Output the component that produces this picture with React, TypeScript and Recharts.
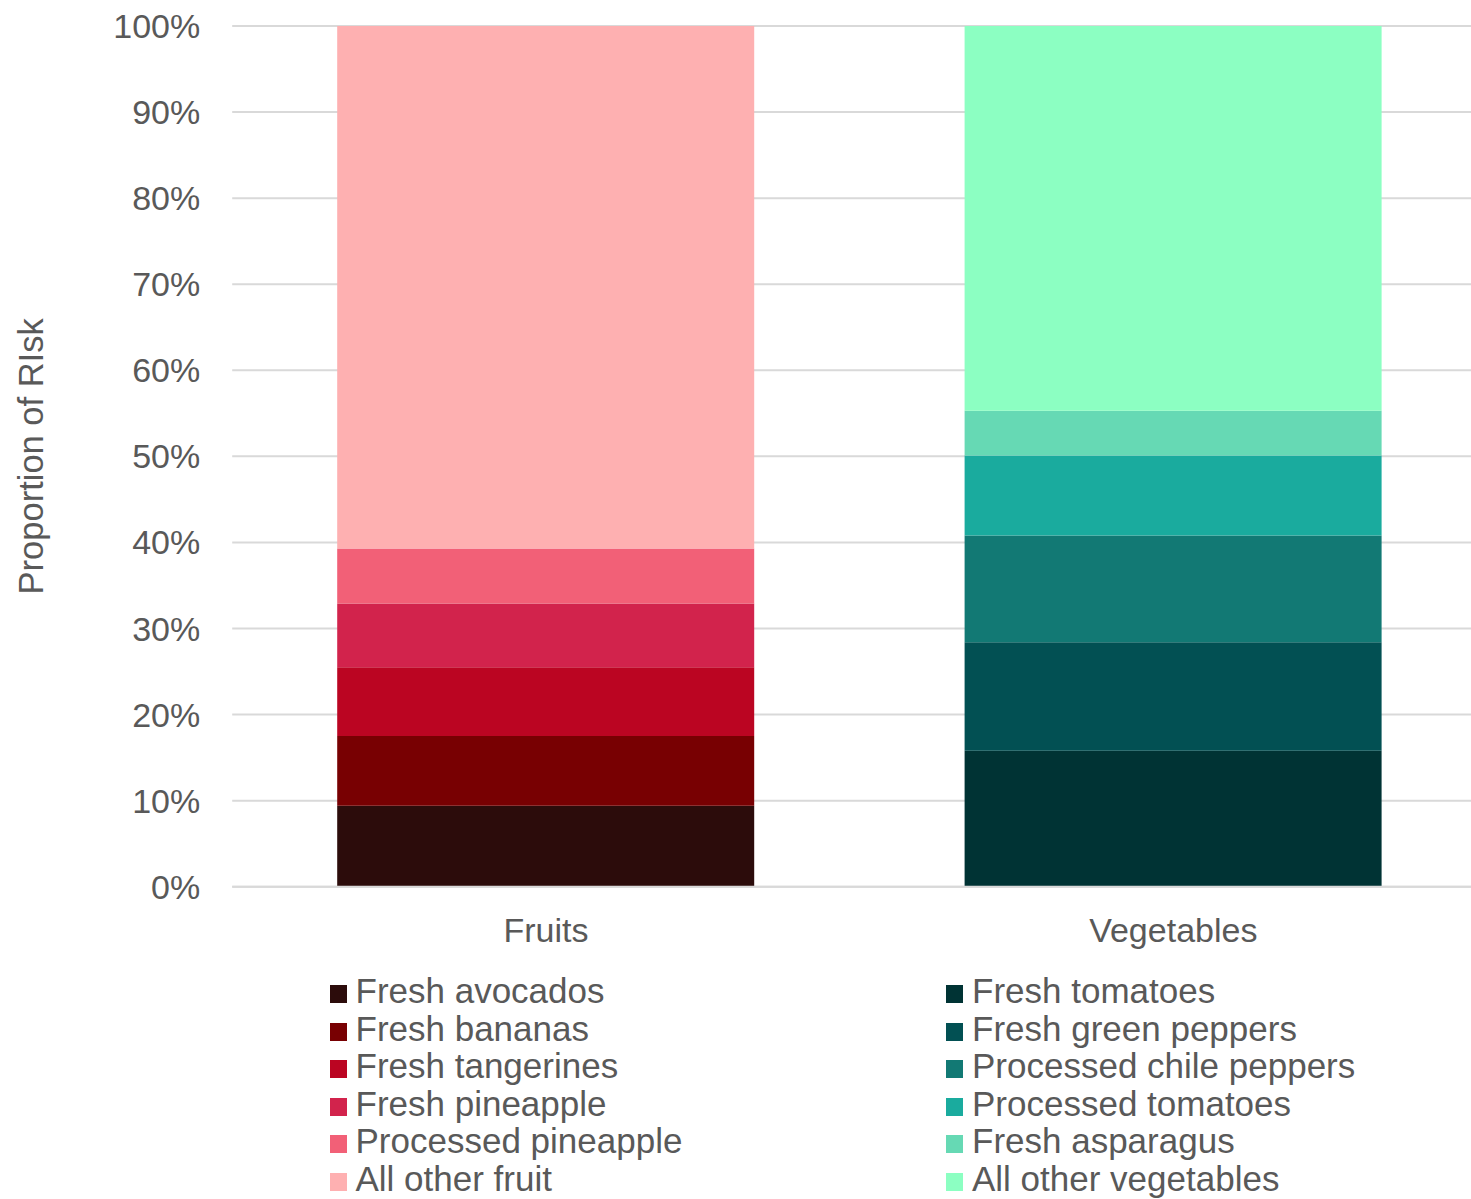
import React from 'react';
import { BarChart, Bar, XAxis, YAxis, CartesianGrid } from 'recharts';

const categories = ['Fruits', 'Vegetables'];

const fruitNames = [
  'Fresh avocados',
  'Fresh bananas',
  'Fresh tangerines',
  'Fresh pineapple',
  'Processed pineapple',
  'All other fruit',
];
const fruitShares = [9.4, 8.1, 8.0, 7.4, 6.4, 60.7];
const fruitColors = ['#2c0c0b', '#780002', '#bb0522', '#d2234c', '#f26077', '#feb0b1'];

const vegNames = [
  'Fresh tomatoes',
  'Fresh green peppers',
  'Processed chile peppers',
  'Processed tomatoes',
  'Fresh asparagus',
  'All other vegetables',
];
const vegShares = [15.8, 12.6, 12.4, 9.3, 5.2, 44.7];
const vegColors = ['#003334', '#025053', '#127974', '#1aab9e', '#66d9b4', '#8cffc2'];

const yTicks = [0, 10, 20, 30, 40, 50, 60, 70, 80, 90, 100];

const FONT = '"Liberation Sans", Arial, sans-serif';
const TEXT = '#595959';
const GRID = '#d9d9d9';

// one row per category; the other group's series are simply absent
const rows = [
  {
    category: categories[0],
    ...Object.fromEntries(fruitNames.map((n, i) => [n, fruitShares[i]])),
  },
  {
    category: categories[1],
    ...Object.fromEntries(vegNames.map((n, i) => [n, vegShares[i]])),
  },
];

function LegendColumn({ names, colors }: { names: string[]; colors: string[] }) {
  return (
    <div>
      {names.map((name, i) => (
        <div key={name} style={{ whiteSpace: 'nowrap' }}>
          <span
            style={{
              display: 'inline-block',
              width: 17,
              height: 18,
              marginRight: 9,
              background: colors[i],
              verticalAlign: 'baseline',
            }}
          />
          {name}
        </div>
      ))}
    </div>
  );
}

export default function App() {
  return (
    <div
      style={{
        position: 'fixed',
        left: 0,
        top: 0,
        width: 1471,
        height: 1199,
        overflow: 'hidden',
        background: '#fff',
        fontFamily: FONT,
      }}
    >
      <BarChart
        width={1487}
        height={971}
        data={rows}
        margin={{ top: 26, right: 0, bottom: 0, left: 0 }}
        barSize={417}
      >
        <CartesianGrid vertical={false} stroke={GRID} strokeWidth={2} />
        <XAxis
          dataKey="category"
          height={84.3}
          axisLine={{ stroke: GRID, strokeWidth: 2 }}
          tickLine={false}
          tickSize={6}
          tickMargin={25}
          tick={{ fill: TEXT, fontSize: 34, fontFamily: FONT }}
        />
        <YAxis
          width={232.2}
          domain={[0, 100]}
          ticks={yTicks}
          tickFormatter={(v: number) => `${v}%`}
          axisLine={false}
          tickLine={false}
          tickSize={6}
          tickMargin={26}
          tick={{ fill: TEXT, fontSize: 34, fontFamily: FONT }}
          label={{
            value: 'Proportion of RIsk',
            angle: -90,
            position: 'insideLeft',
            offset: 30.5,
            style: { textAnchor: 'middle', fill: TEXT, fontSize: 34.5, fontFamily: FONT },
          }}
        />
        {fruitNames.map((name, i) => (
          <Bar key={name} dataKey={name} stackId="share" fill={fruitColors[i]} isAnimationActive={false} />
        ))}
        {vegNames.map((name, i) => (
          <Bar key={name} dataKey={name} stackId="share" fill={vegColors[i]} isAnimationActive={false} />
        ))}
      </BarChart>

      <div
        style={{
          position: 'absolute',
          top: 972,
          left: 329.5,
          display: 'grid',
          gridTemplateColumns: '616.5px auto',
          fontSize: 35,
          lineHeight: '37.6px',
          color: TEXT,
        }}
      >
        <LegendColumn names={fruitNames} colors={fruitColors} />
        <LegendColumn names={vegNames} colors={vegColors} />
      </div>
    </div>
  );
}
